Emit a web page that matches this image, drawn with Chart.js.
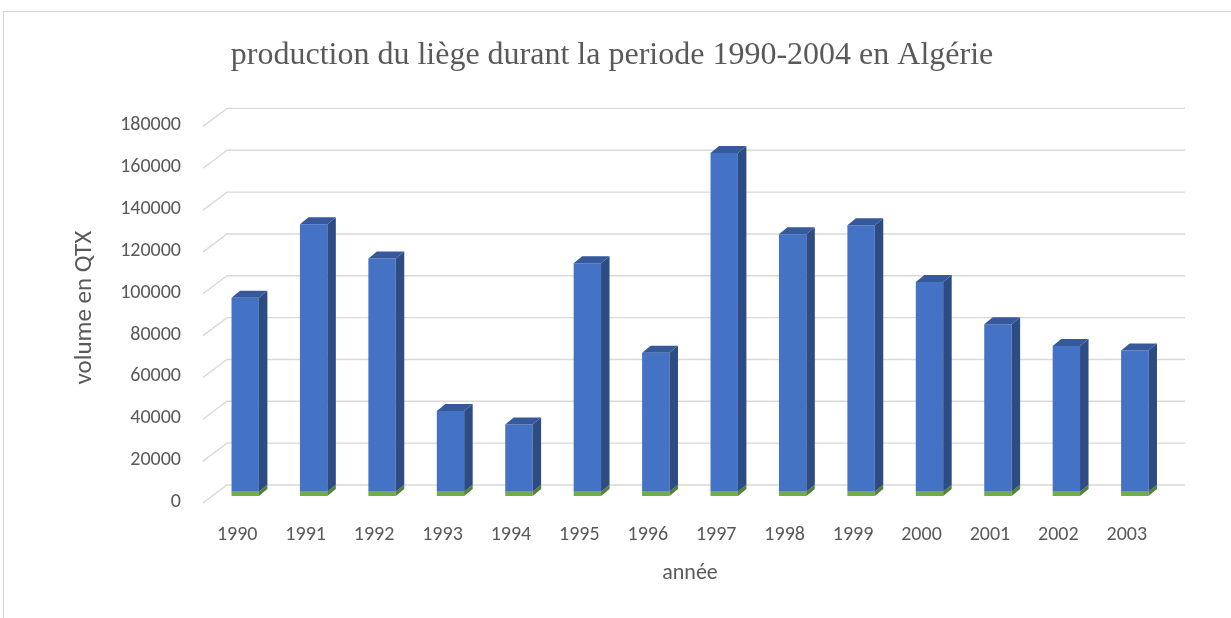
<!DOCTYPE html>
<html>
<head>
<meta charset="utf-8">
<script src="https://cdn.jsdelivr.net/npm/chart.js@4.4.1/dist/chart.umd.min.js"></script>
<style>
  body { margin: 0; background: #fff; overflow: hidden; }
  #frame { position: absolute; left: 3px; top: 11px; width: 1400px; height: 800px; border: 1px solid #d4d4d4; }
  #wrap { position: absolute; left: 0; top: 0; width: 1231px; height: 618px; }
</style>
</head>
<body>
<div id="frame"></div>
<div id="wrap"><canvas id="chart" width="1231" height="618"></canvas></div>
<script>
"use strict";

const years = ['1990', '1991', '1992', '1993', '1994', '1995', '1996', '1997', '1998', '1999', '2000', '2001', '2002', '2003'];
// the year column ended up plotted too (thin green strip at the bottom)
const anneeValues = [1990, 1991, 1992, 1993, 1994, 1995, 1996, 1997, 1998, 1999, 2000, 2001, 2002, 2003];
const volumeValues = [92800, 127900, 111500, 38600, 32200, 109200, 66500, 161900, 123100, 127400, 100300, 80100, 69700, 67600];

const textColor = '#595959';
const labelFont = 'Carlito, Calibri, Lato, sans-serif';

// fake 3d depth
const depthX = 8.5;
const depthY = -7;

const fakeWalls = {
  id: 'fakeWalls',
  beforeDatasetsDraw(chart) {
    const ctx = chart.ctx;
    const area = chart.chartArea;
    const y = chart.scales.y;
    ctx.save();
    ctx.strokeStyle = '#d9d9d9';
    ctx.lineWidth = 1.4;
    y.ticks.forEach((t) => {
      let py = y.getPixelForValue(t.value);
      ctx.beginPath();
      ctx.moveTo(area.left - 8, py + 7);
      ctx.lineTo(area.left + 16, py - 11);
      ctx.lineTo(area.right + 16, py - 11);
      ctx.stroke();
    });
    ctx.restore();
  }
};

const fakeDepth = {
  id: 'fakeDepth',
  afterDatasetsDraw(chart) {
    const ctx = chart.ctx;
    const last = chart.data.datasets.length - 1;
    ctx.save();
    chart.data.datasets.forEach((ds, i) => {
      let meta = chart.getDatasetMeta(i);
      meta.data.forEach((bar) => {
        let p = bar.getProps(['x', 'y', 'base', 'width'], true);
        let l = p.x - p.width / 2;
        let r = p.x + p.width / 2;
        // side
        ctx.fillStyle = ds.sideColor;
        ctx.beginPath();
        ctx.moveTo(r, p.y);
        ctx.lineTo(r + depthX, p.y + depthY);
        ctx.lineTo(r + depthX, p.base + depthY);
        ctx.lineTo(r, p.base);
        ctx.closePath();
        ctx.fill();
        // top
        if (i === last) {
          ctx.fillStyle = ds.topColor;
          ctx.beginPath();
          ctx.moveTo(l, p.y);
          ctx.lineTo(l + depthX, p.y + depthY);
          ctx.lineTo(r + depthX, p.y + depthY);
          ctx.lineTo(r, p.y);
          ctx.closePath();
          ctx.fill();
        }
      });
    });
    ctx.restore();
  }
};

const ctx = document.querySelector('#chart').getContext('2d');

let liegeChart = new Chart(ctx, {
  type: 'bar',
  data: {
    labels: years,
    datasets: [{
      label: 'année',
      data: anneeValues,
      backgroundColor: '#70ad47',
      sideColor: '#548235',
      topColor: '#5f9a3a',
      borderWidth: 0
    },
    {
      label: 'volume en QTX',
      data: volumeValues,
      backgroundColor: '#4472c4',
      sideColor: '#2d4c84',
      topColor: '#36599c',
      borderWidth: 0
    }]
  },
  options: {
    responsive: false,
    animation: false,
    layout: { padding: { left: 0, right: 7, top: 0, bottom: 0 } },
    datasets: {
      bar: { categoryPercentage: 1, barPercentage: 0.4 }
    },
    plugins: {
      legend: { display: false },
      tooltip: { enabled: false },
      title: {
        display: true,
        text: 'production du liège durant la periode 1990-2004 en Algérie',
        color: textColor,
        font: { family: '"Liberation Serif", "Times New Roman", serif', size: 32, weight: 'normal', lineHeight: 1.2 },
        padding: { top: 36, bottom: 45 }
      }
    },
    scales: {
      x: {
        stacked: true,
        grid: { display: false, drawTicks: false },
        border: { display: false },
        ticks: { color: textColor, font: { family: labelFont, size: 20 }, padding: 27, labelOffset: -8 },
        title: {
          display: true,
          text: 'année',
          color: textColor,
          font: { family: labelFont, size: 22, lineHeight: 1.2 },
          padding: { top: 0, bottom: 31 }
        },
        afterFit(scale) { scale.height = 122; }
      },
      y: {
        stacked: true,
        min: 0,
        max: 180000,
        grid: { display: false, drawTicks: false },
        border: { display: false },
        ticks: {
          stepSize: 20000,
          color: textColor,
          font: { family: labelFont, size: 20 },
          padding: 30,
          labelOffset: 6,
          callback: (v) => String(v)
        },
        title: {
          display: true,
          text: 'volume en QTX',
          color: textColor,
          font: { family: labelFont, size: 25, lineHeight: 1.2 },
          padding: { top: 70, bottom: 0 }
        },
        afterFit(scale) { scale.width = 211; }
      },
      y2: {
        position: 'right',
        display: true,
        grid: { display: false, drawTicks: false },
        border: { display: false },
        ticks: { display: false },
        afterFit(scale) { scale.width = 55; }
      }
    }
  },
  plugins: [fakeWalls, fakeDepth]
});
</script>
</body>
</html>
